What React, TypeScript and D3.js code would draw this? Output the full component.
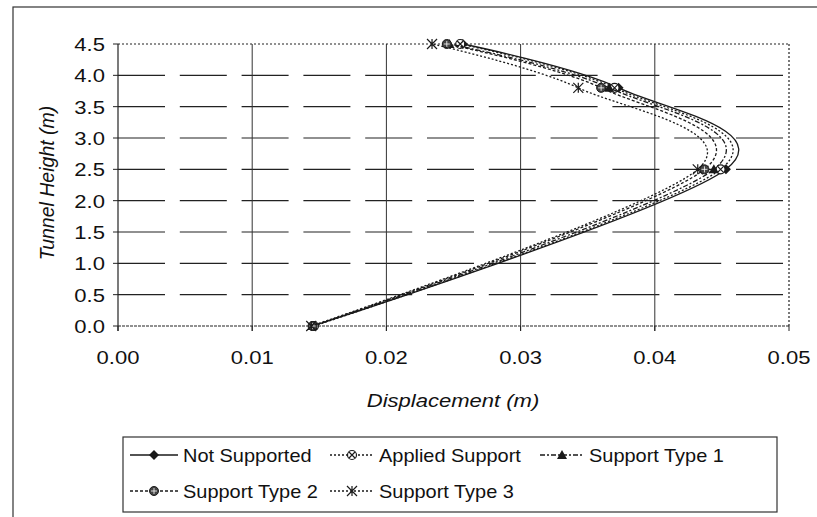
import React from "react";
import * as d3 from "d3";

const heights = [0, 2.5, 3.8, 4.5];
const seriesNames = ["Not Supported", "Applied Support", "Support Type 1", "Support Type 2", "Support Type 3"];
const notSupported = [0.0145, 0.0453, 0.0373, 0.0257];
const appliedSupport = [0.0146, 0.0449, 0.037, 0.0255];
const supportType1 = [0.0145, 0.0444, 0.0366, 0.0247];
const supportType2 = [0.0145, 0.0437, 0.036, 0.0245];
const supportType3 = [0.0144, 0.0432, 0.0343, 0.0234];
const seriesValues = [notSupported, appliedSupport, supportType1, supportType2, supportType3];
const xTicks = [0, 0.01, 0.02, 0.03, 0.04, 0.05];
const yTicks = [0, 0.5, 1, 1.5, 2, 2.5, 3, 3.5, 4, 4.5];

const dashes = ["none", "2 2", "5 2 2 2", "3 2", "2 2"];
const INK = "#1a1a1a";
const FONT = "'Liberation Sans', Arial, sans-serif";

function T({
  x,
  y,
  anchor = "start",
  size = 19,
  sx = 1.16,
  italic = false,
  children,
}: {
  x: number;
  y: number;
  anchor?: string;
  size?: number;
  sx?: number;
  italic?: boolean;
  children: React.ReactNode;
}) {
  return (
    <text
      transform={`translate(${x},${y}) scale(${sx},1)`}
      textAnchor={anchor}
      dy="0.36em"
      fontSize={size}
      fontStyle={italic ? "italic" : "normal"}
      fill="#111"
    >
      {children}
    </text>
  );
}

function Marker({ kind, x, y }: { kind: number; x: number; y: number }) {
  const s = 5;
  if (kind === 0)
    return <path d={`M${x},${y - s}L${x + s},${y}L${x},${y + s}L${x - s},${y}Z`} fill={INK} />;
  if (kind === 1)
    return (
      <g stroke={INK} strokeWidth={1.2}>
        <circle cx={x} cy={y} r={4.5} fill="#fff" />
        <path d={`M${x - 3},${y - 3}L${x + 3},${y + 3}M${x + 3},${y - 3}L${x - 3},${y + 3}`} />
      </g>
    );
  if (kind === 2)
    return <path d={`M${x},${y - 5}L${x + 5},${y + 4}L${x - 5},${y + 4}Z`} fill={INK} />;
  if (kind === 3)
    return (
      <g>
        <circle cx={x} cy={y} r={4.5} fill="#444" stroke={INK} strokeWidth={1} />
        <path d={`M${x - 3},${y}L${x + 3},${y}M${x},${y - 3}L${x},${y + 3}`} stroke="#fff" strokeWidth={0.8} />
      </g>
    );
  return (
    <path
      d={`M${x - 5},${y - 5}L${x + 5},${y + 5}M${x + 5},${y - 5}L${x - 5},${y + 5}M${x},${y - 5}L${x},${y + 5}`}
      stroke={INK}
      strokeWidth={1.2}
    />
  );
}

export default function App() {
  const x = d3.scaleLinear().domain([0, 0.05]).range([118, 789]);
  const y = d3.scaleLinear().domain([0, 4.5]).range([326, 44]);
  const line = d3
    .line<[number, number]>()
    .x((d) => x(d[0]))
    .y((d) => y(d[1]))
    .curve(d3.curveCardinal.tension(0));

  const legendItems = [
    { i: 0, lx: 130, w: 48, ly: 455 },
    { i: 1, lx: 330, w: 44, ly: 455 },
    { i: 2, lx: 540, w: 44, ly: 455 },
    { i: 3, lx: 130, w: 48, ly: 491 },
    { i: 4, lx: 330, w: 44, ly: 491 },
  ];

  return (
    <svg
      width={817}
      height={517}
      style={{ position: "fixed", left: 0, top: 0, background: "#fff" }}
      fontFamily={FONT}
    >
      <rect x={0} y={0} width={817} height={517} fill="#fff" />
      {/* outer chart border */}
      <rect x={13} y={7} width={900} height={600} fill="none" stroke="#333" strokeWidth={1.2} />

      {/* horizontal dashed gridlines */}
      {yTicks
        .filter((t) => t > 0 && t < 4.5)
        .map((t) => (
          <line
            key={"hg" + t}
            x1={x(0)}
            x2={x(0.05)}
            y1={y(t)}
            y2={y(t)}
            stroke="#222"
            strokeWidth={1.1}
            strokeDasharray="47 14.8"
          />
        ))}
      {/* vertical gridlines */}
      {xTicks
        .filter((t) => t > 0 && t < 0.05)
        .map((t) => (
          <line key={"vg" + t} x1={x(t)} x2={x(t)} y1={y(4.5)} y2={y(0) + 5} stroke="#333" strokeWidth={1} />
        ))}
      {/* plot border: dotted top & right */}
      <line x1={x(0)} x2={x(0.05)} y1={y(4.5)} y2={y(4.5)} stroke="#222" strokeWidth={1.2} strokeDasharray="2 2" />
      <line x1={x(0.05)} x2={x(0.05)} y1={y(4.5)} y2={y(0)} stroke="#222" strokeWidth={1.2} strokeDasharray="2 2" />
      {/* axes */}
      <line x1={x(0)} x2={x(0.05)} y1={y(0)} y2={y(0)} stroke="#222" strokeWidth={1.2} strokeDasharray="3 1" />
      <line x1={x(0)} x2={x(0)} y1={y(4.5)} y2={y(0) + 5} stroke="#222" strokeWidth={1.2} />
      {yTicks.map((t) => (
        <g key={"yt" + t}>
          <line x1={x(0) - 5} x2={x(0)} y1={y(t)} y2={y(t)} stroke="#222" strokeWidth={1} />
          <T x={105} y={y(t)} anchor="end">
            {t.toFixed(1)}
          </T>
        </g>
      ))}
      {xTicks.map((t) => (
        <g key={"xt" + t}>
          <line x1={x(t)} x2={x(t)} y1={y(0)} y2={y(0) + 5} stroke="#222" strokeWidth={1} />
          <T x={x(t)} y={357} anchor="middle">
            {t.toFixed(2)}
          </T>
        </g>
      ))}
      <T x={453} y={400} anchor="middle" italic>
        Displacement (m)
      </T>
      <text
        transform={`translate(54,${(y(0) + y(4.5)) / 2 - 2}) rotate(-90)`}
        textAnchor="middle"
        fontSize={19.5}
        fontStyle="italic"
        fill="#111"
      >
        Tunnel Height (m)
      </text>

      {/* series */}
      {seriesValues.map((vals, i) => {
        const pts = vals.map((v, k) => [v, heights[k]] as [number, number]);
        return (
          <g key={"s" + i}>
            <path
              d={line(pts) || ""}
              fill="none"
              stroke={INK}
              strokeWidth={1.3}
              strokeDasharray={dashes[i]}
            />
            {pts.map((p, k) => (
              <Marker key={k} kind={i} x={x(p[0])} y={y(p[1])} />
            ))}
          </g>
        );
      })}

      {/* legend */}
      <rect x={123} y={437} width={654} height={75} fill="#fff" stroke="#333" strokeWidth={1.2} />
      {legendItems.map(({ i, lx, w, ly }) => (
        <g key={"lg" + i}>
          <line
            x1={lx}
            x2={lx + w}
            y1={ly}
            y2={ly}
            stroke={INK}
            strokeWidth={1.3}
            strokeDasharray={dashes[i]}
          />
          <Marker kind={i} x={lx + w / 2} y={ly} />
          <T x={lx + w + 5} y={ly} sx={1.05}>
            {seriesNames[i]}
          </T>
        </g>
      ))}
    </svg>
  );
}
